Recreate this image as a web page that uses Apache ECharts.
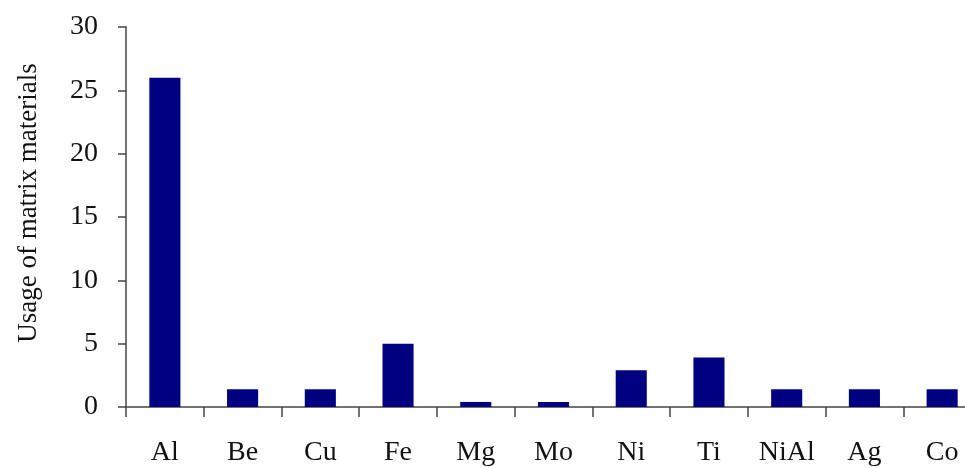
<!DOCTYPE html>
<html>
<head>
<meta charset="utf-8">
<script src="https://cdn.jsdelivr.net/npm/echarts@6/dist/echarts.min.js"></script>
<style>
  html, body { margin: 0; padding: 0; background: #ffffff; }
  #chart { width: 965px; height: 468px; }
</style>
</head>
<body>
<div id="chart"></div>
<script>
var categories = ['Al', 'Be', 'Cu', 'Fe', 'Mg', 'Mo', 'Ni', 'Ti', 'NiAl', 'Ag', 'Co'];
var usage = [26, 1.4, 1.4, 5, 0.4, 0.4, 2.9, 3.9, 1.4, 1.4, 1.4];
var yTicks = [0, 5, 10, 15, 20, 25, 30];

var chart = echarts.init(document.getElementById('chart'), null, { renderer: 'canvas' });

var font = 'Liberation Serif';

// the source figure is cropped on the right, so the plot runs past the page edge
var option = {
  backgroundColor: '#ffffff',
  animation: false,
  grid: {
    left: 126,
    width: 855,
    top: 27,
    bottom: 61,
    containLabel: false,
    outerBoundsMode: 'none'
  },
  xAxis: {
    type: 'category',
    data: categories,
    axisLine: { lineStyle: { color: '#444', width: 1.5 } },
    axisTick: { show: true, length: 10, lineStyle: { color: '#444', width: 1.5 } },
    axisLabel: {
      color: '#111',
      fontFamily: font,
      fontSize: 28,
      margin: 32
    }
  },
  yAxis: {
    type: 'value',
    min: yTicks[0],
    max: yTicks[yTicks.length - 1],
    interval: 5,
    name: 'Usage of matrix materials',
    nameLocation: 'middle',
    nameGap: 84,
    nameTextStyle: { color: '#111', fontFamily: font, fontSize: 27, padding: [0, 0, 0, 28] },
    splitLine: { show: false },
    axisLine: { show: true, lineStyle: { color: '#444', width: 1.5 } },
    axisTick: { show: true, length: 8, lineStyle: { color: '#444', width: 1.5 } },
    axisLabel: {
      color: '#111',
      fontFamily: font,
      fontSize: 28,
      margin: 28
    }
  },
  series: [{
    type: 'bar',
    data: usage,
    barWidth: '40%',
    itemStyle: { color: '#000080' }
  }]
};

chart.setOption(option);
</script>
</body>
</html>
